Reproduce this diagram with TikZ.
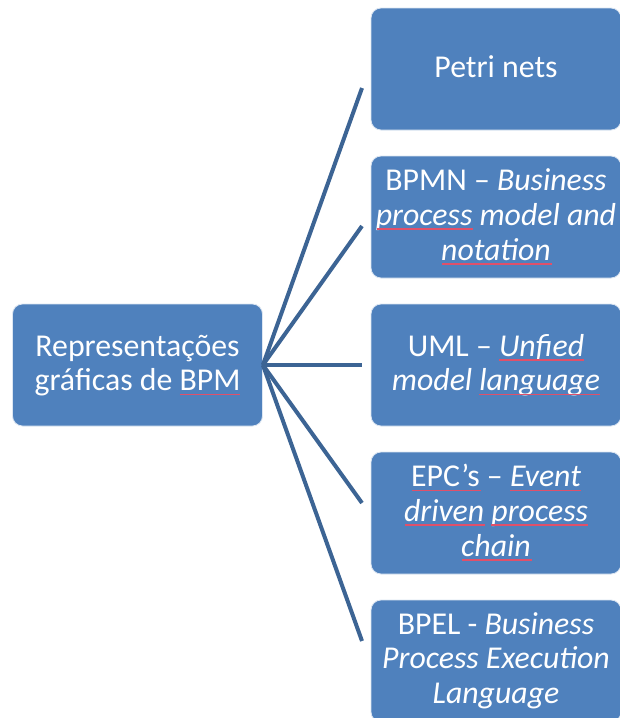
\documentclass[tikz,border=0pt]{standalone}
\usepackage{fontspec}
\setmainfont{Carlito}
\definecolor{boxblue}{HTML}{4F81BD}
\definecolor{boxedge}{HTML}{DCE6F2}
\definecolor{linkblue}{HTML}{3C6494}
\definecolor{spellred}{HTML}{E0506A}
\newcommand\lblfont{\fontsize{31.8}{34.5}\selectfont}
\tikzset{
  box/.style={rectangle, rounded corners=10pt, fill=boxblue, draw=boxedge,
    line width=0.8pt, inner sep=0pt, minimum width=250pt, minimum height=122pt},
  txt/.style={anchor=base, inner sep=0pt, outer sep=0pt, text=white, font=\lblfont},
  ghost/.style={txt, anchor=base west},
  ul/.style={draw=spellred, line width=1.8pt},
  link/.style={draw=linkblue, line width=4pt}
}
% red underline below a word of a text line:
% #1 line node, #2 text before the word, #3 the word
\newcommand\ulword[3]{%
  \node[ghost] (pre) at (#1.base west) {\phantom{#2}};
  \node[ghost] (wd) at (pre.base east) {\phantom{#3}};
  \draw[ul] ([yshift=-3.8pt]wd.base west) -- ([yshift=-3.8pt]wd.base east);}
\begin{document}
\begin{tikzpicture}[x=1pt,y=-1pt]
\useasboundingbox[fill=white] (0,0) rectangle (619,718);

% boxes
\node[box] (root) at (137.5,365) {};
\node[box] (n1) at (496,69) {};
\node[box] (n2) at (496,217) {};
\node[box] (n3) at (496,365) {};
\node[box] (n4) at (496,513) {};
\node[box] (n5) at (496,661) {};

% connectors
\coordinate (e1) at (362,88);
\coordinate (e2) at (362,226);
\coordinate (e3) at (362,365);
\coordinate (e4) at (362,503);
\coordinate (e5) at (362,641);
\foreach \e in {e1,e2,e3,e4,e5}
  \draw[link] (root.east) -- (\e);

% labels, one node per line
\node[txt] (r1) at (137.5,356.2) {Representações};
\node[txt] (r2) at (137.5,390.7) {gráficas de BPM};

\node[txt] (p1) at (496,77.5) {Petri nets};

\node[txt] (b1) at (496,190.7) {BPMN – \textit{Business}};
\node[txt] (b2) at (496,225.2) {\textit{process model and}};
\node[txt] (b3) at (496,260.2) {\textit{notation}};

\node[txt] (u1) at (496,356.2) {UML – \textit{Unfied}};
\node[txt] (u2) at (496,390.7) {\textit{model language}};

\node[txt] (c1) at (496,486.7) {EPC’s – \textit{Event}};
\node[txt] (c2) at (496,521.2) {\textit{driven process}};
\node[txt] (c3) at (496,556.2) {\textit{chain}};

\node[txt] (l1) at (496,634) {BPEL - \textit{Business}};
\node[txt] (l2) at (496,668.5) {\textit{Process Execution}};
\node[txt] (l3) at (496,703) {\textit{Language}};

% underlined words
\ulword{r2}{gráficas de\ }{BPM}
\ulword{b2}{}{\itshape process}
\ulword{b3}{}{\itshape notation}
\ulword{u1}{UML –\ }{\itshape Unfied}
\ulword{u2}{\itshape model\ }{\itshape language}
\ulword{c1}{}{EPC’s}
\ulword{c1}{EPC’s –\ }{\itshape Event}
\ulword{c2}{}{\itshape driven}
\ulword{c2}{\itshape driven\ }{\itshape process}
\ulword{c3}{}{\itshape chain}
\end{tikzpicture}
\end{document}
